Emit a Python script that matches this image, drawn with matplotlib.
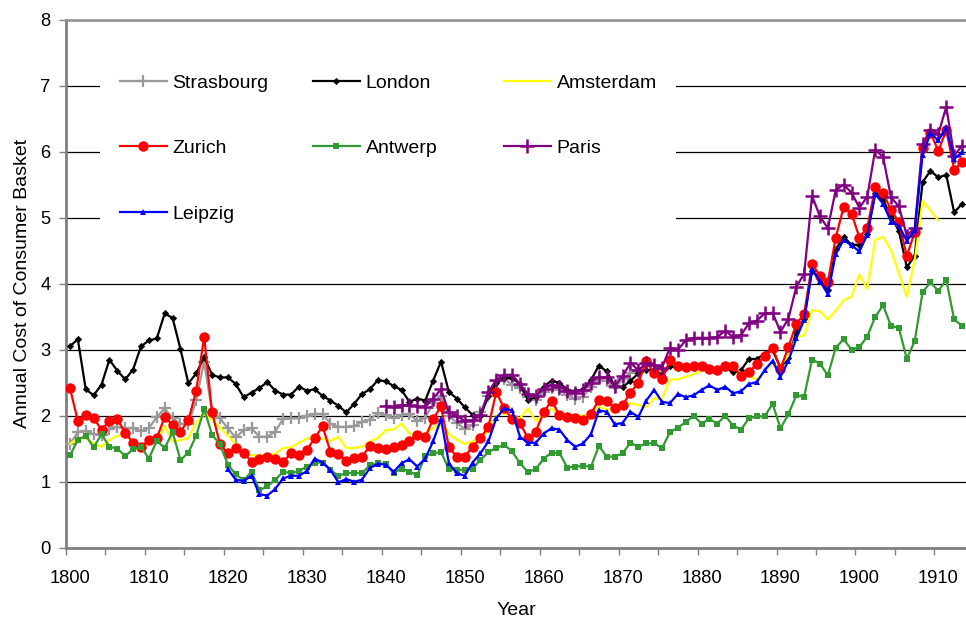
"""
Annual cost of a consumer basket in seven European cities, 1800-1913.
Line chart with markers, legend laid out in three columns inside the plot.
"""

import numpy as np
import matplotlib.pyplot as plt
from matplotlib.patches import Rectangle


# ---------------------------
# Data
# ---------------------------

strasbourg_start = 1800
strasbourg = [
    1.57, 1.75, 1.77, 1.72, 1.71, 1.80, 1.83, 1.81, 1.81, 1.77,
    1.81, 1.98, 2.11, 1.96, 1.88, 1.87, 2.24, 2.82, 2.06, 1.96,
    1.81, 1.67, 1.78, 1.81, 1.68, 1.68, 1.76, 1.95, 1.96, 1.96,
    2.00, 2.03, 2.02, 1.88, 1.83, 1.83, 1.84, 1.91, 1.94, 2.04,
    2.01, 1.96, 2.01, 2.02, 1.92, 1.97, 2.19, 2.30, 2.00, 1.89,
    1.80, 1.86, 2.05, 2.30, 2.52, 2.56, 2.47, 2.42, 2.28, 2.24,
    2.36, 2.42, 2.39, 2.31, 2.26, 2.29, 2.44, 2.55, 2.53, 2.42,
    2.55, 2.65, 2.69, 2.78, 2.75, 2.70,
]

london_start = 1800
london = [
    3.05, 3.16, 2.40, 2.31, 2.47, 2.85, 2.68, 2.55, 2.70, 3.05,
    3.14, 3.17, 3.55, 3.48, 3.01, 2.49, 2.64, 2.89, 2.62, 2.58,
    2.58, 2.48, 2.28, 2.35, 2.42, 2.51, 2.38, 2.32, 2.32, 2.44,
    2.38, 2.40, 2.30, 2.23, 2.15, 2.05, 2.18, 2.33, 2.40, 2.54,
    2.52, 2.45, 2.39, 2.21, 2.26, 2.23, 2.53, 2.82, 2.36, 2.26,
    2.13, 2.01, 1.99, 2.30, 2.49, 2.57, 2.57, 2.48, 2.24, 2.28,
    2.44, 2.53, 2.50, 2.39, 2.37, 2.40, 2.54, 2.76, 2.67, 2.45,
    2.43, 2.53, 2.64, 2.69, 2.70, 2.62, 2.75, 2.72, 2.72, 2.72,
    2.72, 2.72, 2.70, 2.72, 2.66, 2.69, 2.86, 2.86, 2.94, 2.99,
    2.73, 2.87, 3.27, 3.47, 4.20, 4.05, 3.90, 4.52, 4.71, 4.59,
    4.59, 4.75, 5.37, 5.27, 5.02, 4.80, 4.25, 4.42, 5.54, 5.71,
    5.61, 5.65, 5.08, 5.21,
]

amsterdam_start = 1800
amsterdam = [
    1.57, 1.66, 1.66, 1.58, 1.53, 1.63, 1.70, 1.70, 1.60, 1.56,
    1.57, 1.59, 1.85, 1.61, 1.63, 1.66, 1.90, 2.02, 1.94, 1.82,
    1.70, 1.57, 1.43, 1.40, 1.40, 1.40, 1.42, 1.51, 1.52, 1.59,
    1.65, 1.69, 1.65, 1.62, 1.68, 1.51, 1.51, 1.53, 1.61, 1.66,
    1.78, 1.79, 1.88, 1.73, 1.69, 1.73, 1.81, 1.91, 1.72, 1.64,
    1.57, 1.61, 1.68, 1.76, 2.00, 2.04, 2.00, 1.96, 2.11, 1.92,
    2.03, 2.11, 2.01, 2.00, 2.00, 2.00, 2.05, 2.13, 2.10, 2.04,
    2.13, 2.19, 2.16, 2.13, 2.26, 2.26, 2.55, 2.55, 2.59, 2.63,
    2.68, 2.70, 2.72, 2.72, 2.72, 2.65, 2.60, 2.55, 2.67, 2.79,
    2.76, 2.91, 3.19, 3.22, 3.60, 3.58, 3.46, 3.59, 3.75, 3.80,
    4.14, 3.92, 4.66, 4.71, 4.51, 4.16, 3.80, 4.35, 5.25, 5.11,
    4.96,
]

zurich_start = 1800
zurich = [
    2.42, 1.92, 2.01, 1.96, 1.79, 1.92, 1.95, 1.74, 1.59, 1.53,
    1.63, 1.66, 1.98, 1.86, 1.76, 1.93, 2.38, 3.20, 2.05, 1.57,
    1.43, 1.51, 1.44, 1.30, 1.34, 1.38, 1.34, 1.30, 1.43, 1.41,
    1.48, 1.66, 1.84, 1.45, 1.42, 1.32, 1.36, 1.38, 1.54, 1.51,
    1.49, 1.53, 1.56, 1.62, 1.71, 1.67, 1.95, 2.14, 1.52, 1.38,
    1.38, 1.53, 1.66, 1.83, 2.36, 2.11, 1.95, 1.89, 1.66, 1.76,
    2.05, 2.23, 2.01, 1.98, 1.97, 1.93, 2.03, 2.24, 2.23, 2.11,
    2.16, 2.35, 2.50, 2.83, 2.64, 2.55, 2.84, 2.75, 2.74, 2.76,
    2.76, 2.71, 2.70, 2.76, 2.76, 2.60, 2.66, 2.78, 2.90, 3.03,
    2.71, 3.04, 3.39, 3.54, 4.30, 4.12, 4.02, 4.70, 5.16, 5.06,
    4.70, 4.85, 5.46, 5.37, 5.12, 4.93, 4.42, 4.78, 6.06, 6.29,
    6.01, 6.33, 5.73, 5.84,
]

antwerp_start = 1800
antwerp = [
    1.40, 1.63, 1.70, 1.52, 1.72, 1.53, 1.50, 1.39, 1.49, 1.53,
    1.35, 1.62, 1.51, 1.75, 1.33, 1.44, 1.70, 2.10, 1.71, 1.57,
    1.26, 1.11, 1.02, 1.15, 0.87, 0.93, 1.03, 1.15, 1.13, 1.16,
    1.23, 1.29, 1.29, 1.18, 1.09, 1.13, 1.13, 1.13, 1.25, 1.28,
    1.27, 1.13, 1.20, 1.15, 1.10, 1.39, 1.43, 1.45, 1.19, 1.18,
    1.18, 1.20, 1.33, 1.45, 1.51, 1.56, 1.46, 1.28, 1.15, 1.19,
    1.35, 1.44, 1.44, 1.21, 1.23, 1.24, 1.23, 1.54, 1.38, 1.38,
    1.43, 1.59, 1.53, 1.58, 1.58, 1.51, 1.75, 1.82, 1.90, 2.00,
    1.88, 1.95, 1.88, 2.00, 1.85, 1.79, 1.96, 1.99, 1.99, 2.18,
    1.81, 2.02, 2.31, 2.29, 2.85, 2.79, 2.61, 3.03, 3.16, 3.00,
    3.04, 3.20, 3.50, 3.67, 3.36, 3.33, 2.86, 3.13, 3.87, 4.02,
    3.89, 4.06, 3.46, 3.36,
]

paris_start = 1840
paris = [
    2.15, 2.13, 2.16, 2.16, 2.14, 2.13, 2.26, 2.40, 2.05, 2.00,
    1.92, 1.93, 2.01, 2.36, 2.54, 2.62, 2.62, 2.48, 2.33, 2.30,
    2.40, 2.47, 2.44, 2.38, 2.35, 2.39, 2.50, 2.59, 2.58, 2.45,
    2.60, 2.80, 2.69, 2.80, 2.77, 2.73, 3.03, 3.00, 3.14, 3.18,
    3.18, 3.18, 3.19, 3.29, 3.19, 3.22, 3.40, 3.44, 3.55, 3.56,
    3.27, 3.47, 3.95, 4.15, 5.33, 5.02, 4.84, 5.42, 5.50, 5.38,
    5.15, 5.32, 6.03, 5.92, 5.31, 5.17, 4.73, 4.84, 6.12, 6.33,
    6.27, 6.68, 5.94, 6.09,
]

leipzig_start = 1820
leipzig = [
    1.19, 1.03, 1.01, 1.09, 0.81, 0.79, 0.89, 1.05, 1.09, 1.09,
    1.16, 1.35, 1.29, 1.18, 0.99, 1.04, 1.00, 1.03, 1.21, 1.27,
    1.26, 1.15, 1.28, 1.34, 1.23, 1.35, 1.61, 1.95, 1.28, 1.13,
    1.09, 1.29, 1.43, 1.61, 1.96, 2.11, 2.08, 1.68, 1.59, 1.59,
    1.73, 1.81, 1.79, 1.63, 1.53, 1.58, 1.72, 2.08, 2.06, 1.87,
    1.89, 2.06, 1.98, 2.23, 2.39, 2.21, 2.19, 2.33, 2.28, 2.31,
    2.39, 2.46, 2.39, 2.44, 2.34, 2.37, 2.48, 2.51, 2.69, 2.83,
    2.59, 2.83, 3.17, 3.45, 4.22, 4.04, 3.84, 4.45, 4.66, 4.58,
    4.49, 4.74, 5.36, 5.21, 4.94, 4.88, 4.65, 4.81, 5.95, 6.28,
    6.17, 6.37, 5.89, 5.99,
]

x_ticks = list(range(1800, 1911, 10))
y_ticks = list(range(0, 9))


# ---------------------------
# Plot style
# ---------------------------

plt.rcParams["font.family"] = ["Liberation Sans", "DejaVu Sans"]

# drawing order follows the original series order (later on top)
series = [
    ("Strasbourg", strasbourg_start, strasbourg,
     dict(color="#999999", marker="+", ms=9, mew=1.6)),
    ("London", london_start, london,
     dict(color="black", marker="D", ms=3.2, mew=0.5)),
    ("Amsterdam", amsterdam_start, amsterdam,
     dict(color="#ffff00", marker=None)),
    ("Zurich", zurich_start, zurich,
     dict(color="#ff0000", marker="o", ms=7.5, mew=0)),
    ("Antwerp", antwerp_start, antwerp,
     dict(color="#339933", marker="s", ms=4.5, mew=0)),
    ("Paris", paris_start, paris,
     dict(color="#800080", marker="+", ms=10, mew=1.8)),
    ("Leipzig", leipzig_start, leipzig,
     dict(color="#0000ff", marker="^", ms=5, mew=0)),
]


# ---------------------------
# Figure
# ---------------------------

fig = plt.figure(figsize=(9.66, 6.19), dpi=100)
fig.patch.set_facecolor("white")

ax = fig.add_axes([66 / 966, 1 - 547.7 / 619, 900 / 966, 528 / 619])

handles = {}

for name, start, vals, style in series:

    xs = np.arange(start, start + len(vals))

    (line,) = ax.plot(
        xs,
        vals,
        lw=1.6,
        label=name,
        zorder=3,
        **style
    )

    handles[name] = line


# white legend area hides the gridlines behind the labels
ax.add_patch(
    Rectangle(
        (1803.8, 4.75), 73.0, 2.6,
        facecolor="white", edgecolor="none", zorder=1
    )
)


# ---------------------------
# Axis configuration
# ---------------------------

ax.set_xlim(1799.5, 1913.5)
ax.set_ylim(0, 8)

ax.set_yticks(y_ticks)
ax.set_xticks(x_ticks)
ax.set_xticks(np.arange(1799.5, 1913, 5), minor=True)

ax.tick_params(axis="y", direction="out", length=5, width=1,
               color="#808080", labelsize=13.2, pad=6)
ax.tick_params(axis="x", which="major", length=0, labelsize=13.2, pad=16)
ax.tick_params(axis="x", which="minor", direction="out", length=5,
               width=1, color="#808080")

ax.yaxis.grid(True, color="black", lw=0.9)
ax.set_axisbelow(True)

for side in ["left", "bottom"]:
    ax.spines[side].set_color("#808080")
    ax.spines[side].set_linewidth(2)

ax.spines["top"].set_color("#909090")
ax.spines["top"].set_linewidth(1.8)
ax.spines["right"].set_visible(False)

ax.set_xlabel("Year", fontsize=14, labelpad=11)
ax.set_ylabel("Annual Cost of Consumer Basket", fontsize=14, labelpad=7)


# ---------------------------
# Legend (three columns, equal column pitch)
# ---------------------------

columns = [
    (120, ["Strasbourg", "Zurich", "Leipzig"]),
    (313, ["London", "Antwerp"]),
    (504, ["Amsterdam", "Paris"]),
]

for k, (px, names) in enumerate(columns):

    leg = ax.legend(
        [handles[n] for n in names],
        names,
        loc="upper left",
        bbox_to_anchor=(px / 966, 1 - 74 / 619),
        bbox_transform=fig.transFigure,
        frameon=False,
        fontsize=14,
        borderpad=0,
        borderaxespad=0,
        handlelength=2.4,
        handletextpad=0.3,
        labelspacing=2.47,
    )

    leg.set_zorder(5)

    if k < len(columns) - 1:
        ax.add_artist(leg)


fig.savefig("out.png", dpi=100, facecolor="white")
plt.close(fig)
